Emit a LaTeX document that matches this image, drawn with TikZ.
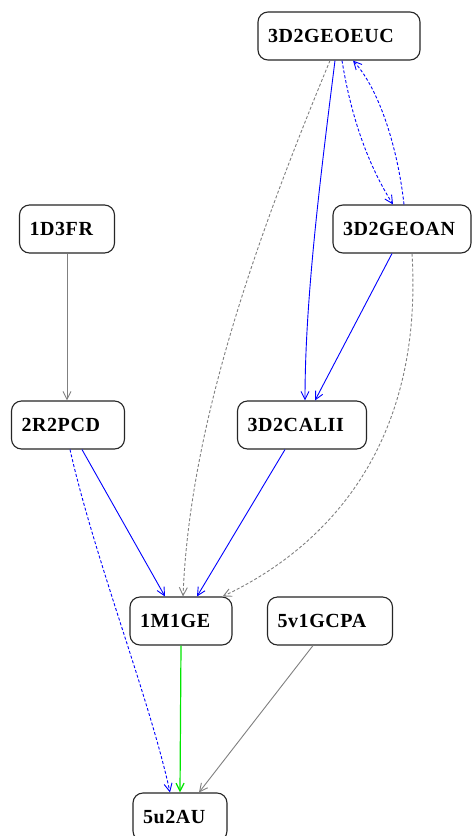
\documentclass[tikz,border=0pt]{standalone}
\usepackage{fontspec}
\setmainfont{Liberation Serif}[LetterSpace=3]
\usetikzlibrary{arrows.meta}
\definecolor{pgreen}{RGB}{0,230,0}
\begin{document}
\begin{tikzpicture}[x=1pt,y=-1pt,
  box/.style={draw=black!85,line width=1.1pt,rounded corners=10pt,fill=white,
    minimum height=48pt,inner ysep=0pt,inner xsep=10pt,text width=#1pt-20pt,align=left,
    font=\fontsize{20}{22}\selectfont\bfseries,text=black},
  arr/.style={line width=0.9pt,-{Straight Barb[length=8pt,width=8pt]}},
  blu/.style={arr,draw=blue},
  gry/.style={arr,draw=gray},
  grn/.style={arr,draw=pgreen,line width=1.2pt},
  dsh/.style={dash pattern=on 3pt off 2pt}]
\path[use as bounding box,fill=white] (0,0) rectangle (472,836);
\node[box=162] (euc) at (339,36) {3D2GEOEUC};
\node[box=138] (an) at (402,229) {3D2GEOAN};
\node[box=95] (fr) at (67,229) {1D3FR};
\node[box=113] (pcd) at (68,425) {2R2PCD};
\node[box=129] (cal) at (302,425) {3D2CALII};
\node[box=102] (ge) at (181,621) {1M1GE};
\node[box=125] (gcpa) at (330,621) {5v1GCPA};
\node[box=94] (au) at (180,817) {5u2AU};
% edges
\draw[gry] (fr.south) -- (pcd.north -| fr.south);
\draw[blu] ([xshift=14pt]pcd.south) -- ([xshift=-16pt]ge.north);
\draw[blu,dsh] ([xshift=2pt]pcd.south) .. controls (95,560) and (150,700) .. ([xshift=-10pt]au.north);
\draw[blu] ([xshift=-17pt]cal.south) -- ([xshift=16pt]ge.north);
\draw[blu] ([xshift=-4pt]euc.south) .. controls (320,180) and (305,300) .. ([xshift=3pt]cal.south |- cal.north);
\draw[blu] ([xshift=-10pt]an.south) -- ([xshift=13pt]cal.north);
\draw[blu,dsh] ([xshift=3pt]euc.south) .. controls (350,110) and (365,160) .. ([xshift=-9pt]an.north);
\draw[blu,dsh] ([xshift=2pt]an.north) .. controls (398,150) and (380,90) .. ([xshift=14pt]euc.south);
\draw[gry,dsh] ([xshift=-9pt]euc.south) .. controls (260,230) and (190,420) .. ([xshift=2pt]ge.north);
\draw[gry,dsh] ([xshift=10pt]an.south) .. controls (425,470) and (300,560) .. ([xshift=-10pt]ge.north east);
\draw[grn] (ge.south) -- (au.north);
\draw[gry] ([xshift=-17pt]gcpa.south) -- ([xshift=19pt]au.north);
\end{tikzpicture}
\end{document}
